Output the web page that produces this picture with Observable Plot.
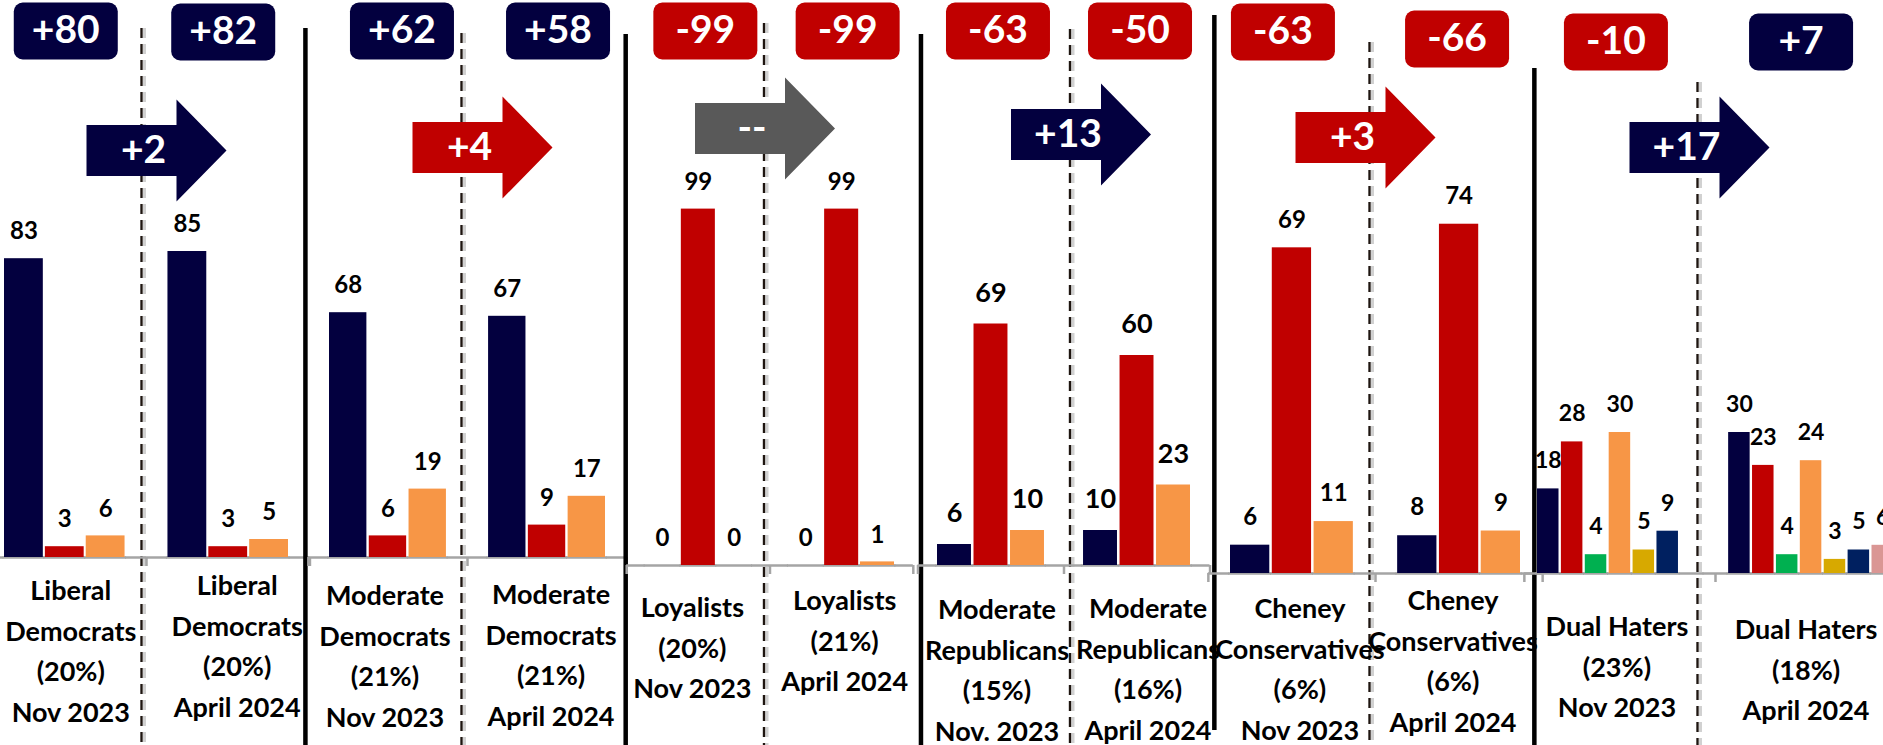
<!DOCTYPE html>
<html>
<head>
<meta charset="utf-8">
<script src="https://cdn.jsdelivr.net/npm/d3@7"></script>
<script src="https://cdn.jsdelivr.net/npm/@observablehq/plot@0.6"></script>
<style>
  html, body { margin: 0; padding: 0; background: #fff; }
  #chart { position: relative; width: 1883px; height: 745px; overflow: hidden; background: #fff; }
  #chart > svg { position: absolute; left: 0; top: 0; }
</style>
</head>
<body>
<div id="chart"></div>
<script>
// ---------------- DATA ----------------
const groups = ["Liberal\nDemocrats", "Moderate\nDemocrats", "Loyalists", "Moderate\nRepublicans", "Cheney\nConservatives", "Dual Haters"];
const groupShares = [[20, 20], [21, 21], [20, 21], [15, 16], [6, 6], [23, 18]];
const periodLabels = [
  ["Nov 2023", "April 2024"], ["Nov 2023", "April 2024"], ["Nov 2023", "April 2024"],
  ["Nov. 2023", "April 2024"], ["Nov 2023", "April 2024"], ["Nov 2023", "April 2024"]
];
const seriesKeys = ["s1", "s2", "s3", "s4", "s5", "s6", "s7"];
const groupSeries = [
  ["s1", "s2", "s4"], ["s1", "s2", "s4"], ["s1", "s2", "s4"],
  ["s1", "s2", "s4"], ["s1", "s2", "s4"], seriesKeys
];
const novValues = [[83, 3, 6], [68, 6, 19], [0, 99, 0], [6, 69, 10], [6, 69, 11], [18, 28, 4, 30, 5, 9, null]];
const aprValues = [[85, 3, 5], [67, 9, 17], [0, 99, 1], [10, 60, 23], [8, 74, 9], [30, 23, 4, 24, 3, 5, 6]];

// ---------------- STYLES ----------------
const seriesColors = {s1: "#03003f", s2: "#c00000", s3: "#00b050", s4: "#f79646", s5: "#d7a900", s6: "#002060", s7: "#da9694"};
const POS = "#03003f", NEG = "#c00000", NEUTRAL = "#595959";
const FONT = "Lato, 'Open Sans', 'DejaVu Sans Condensed', sans-serif";

// ---------------- LAYOUT (pixels) ----------------
const pairLayout = [
  {x0: 4,    x1: 288,  pad: 0.05, base: 557, k: 3.6,  valueSize: 24, valueDy: -27, solidDx: 0,  solidTop: 0,  solidBottom: 0,  dashDx: -5, dashTop: 28, arrowY: 150, arrowDx: 0},
  {x0: 329,  x1: 605,  pad: 0.06, base: 557, k: 3.6,  valueSize: 24, valueDy: -27, solidDx: -3, solidTop: 28, solidBottom: 0,  dashDx: -6, dashTop: 33, arrowY: 147, arrowDx: 5},
  {x0: 645,  x1: 894,  pad: 0.05, base: 565, k: 3.6,  valueSize: 24, valueDy: -27, solidDx: -1, solidTop: 34, solidBottom: 0,  dashDx: -6, dashTop: 23, arrowY: 128, arrowDx: -15},
  {x0: 937,  x1: 1190, pad: 0.07, base: 565, k: 3.5,  valueSize: 27, valueDy: -31, solidDx: 3,  solidTop: 34, solidBottom: 0,  dashDx: 6,  dashTop: 29, arrowY: 134, arrowDx: 7},
  {x0: 1230, x1: 1520, pad: 0.06, base: 573, k: 4.72, valueSize: 24, valueDy: -28, solidDx: 6,  solidTop: 15, solidBottom: 15, dashDx: -6, dashTop: 42, arrowY: 137, arrowDx: -20},
  {x0: 1537, x1: 1893, pad: 0.1,  base: 573, k: 4.7,  valueSize: 23, valueDy: -28, solidDx: 10, solidTop: 68, solidBottom: 0,  dashDx: -18, dashTop: 82, arrowY: 147, arrowDx: -26}
];
const labelDy = [[14, 9], [19, 18], [23, 16], [25, 24], [16, 8], [34, 37]];
const labelDx = [[6, 9], [-3, 4], [-6, 3], [6, 11], [8, -6], [-3, -5]];
const badgeY  = [[30, 31], [30, 30], [30, 30], [30, 30], [31, 38], [41, 41]];
const badgeDx = [[1, -5], [14, 11], [7, 6], [7, 3], [-9, -2], [-4, -10]];

// custom symbols (shapes of annotation boxes)
function roundRect(ctx, x, y, w, h, r) {
  ctx.moveTo(x + r, y);
  ctx.arcTo(x + w, y, x + w, y + h, r);
  ctx.arcTo(x + w, y + h, x, y + h, r);
  ctx.arcTo(x, y + h, x, y, r);
  ctx.arcTo(x, y, x + w, y, r);
  ctx.closePath();
}
const badgeSymbol = {draw(ctx) { roundRect(ctx, -52, -28, 104, 57, 9); }};
const arrowSymbol = {draw(ctx) {
  ctx.moveTo(-60, -25.5); ctx.lineTo(30, -25.5); ctx.lineTo(30, -51); ctx.lineTo(80, 0);
  ctx.lineTo(30, 51); ctx.lineTo(30, 25.5); ctx.lineTo(-60, 25.5); ctx.closePath();
}};

const signed = (v) => (v > 0 ? "+" + v : String(v));

function pairChart(g) {
  const L = pairLayout[g];
  const series = groupSeries[g];
  const nov = series.map((s) => "Nov|" + s);
  const apr = series.map((s) => "Apr|" + s);
  const domain = ["lead", ...nov, "sep", ...apr, "trail"];
  const n = domain.length;
  const iLast = n - 2;
  const step = (L.x1 - L.x0) / (iLast - L.pad);
  const r0 = L.x0 - L.pad * step - step;
  const r1 = r0 + (n + L.pad) * step;
  const bw = step * (1 - L.pad);
  const gap = step - bw;

  const bars = [];
  [novValues[g], aprValues[g]].forEach((vals, pi) =>
    vals.forEach((v, j) => {
      if (v != null) bars.push({key: (pi ? "Apr|" : "Nov|") + series[j], series: series[j], value: v});
    })
  );
  const mid = series[Math.floor((series.length - 1) / 2)];
  const nets = [novValues[g][0] - novValues[g][1], aprValues[g][0] - aprValues[g][1]];
  const panels = [0, 1].map((pi) => ({
    key: (pi ? "Apr|" : "Nov|") + mid,
    net: nets[pi],
    label: `${groups[g]}\n(${groupShares[g][pi]}%)\n${periodLabels[g][pi]}`
  }));
  const change = nets[1] - nets[0];
  const arrow = [{
    key: "sep",
    text: change === 0 ? "--" : "+" + Math.abs(change),
    color: change > 0 ? POS : change < 0 ? NEG : NEUTRAL
  }];

  const marks = [];
  // separators
  if (g > 0) {
    marks.push(Plot.ruleX(["lead"], {stroke: "#000", strokeWidth: 4.5, insetTop: L.solidTop, insetBottom: L.solidBottom, dx: L.solidDx}));
  }
  marks.push(Plot.ruleX(["sep"], {stroke: "#9a9a9a", strokeOpacity: 0.45, strokeWidth: 6, strokeDasharray: "10,6", insetTop: L.dashTop, dx: L.dashDx + 1.5}));
  marks.push(Plot.ruleX(["sep"], {stroke: "#1e1510", strokeWidth: 2.2, strokeDasharray: "10,6", insetTop: L.dashTop, dx: L.dashDx}));
  // category axis line
  marks.push(Plot.tickY([...nov, "sep", ...apr], {x: (d) => d, y: 0, stroke: "#a5a5a5", strokeWidth: 2.5, insetLeft: -gap / 2 - 0.5, insetRight: -gap / 2 - 0.5}));
  marks.push(Plot.tickY(["lead"], {x: (d) => d, y: 0, stroke: "#a5a5a5", strokeWidth: 2.5, insetLeft: bw / 2, insetRight: -gap / 2 - 0.5}));
  marks.push(Plot.tickY(["trail"], {x: (d) => d, y: 0, stroke: "#a5a5a5", strokeWidth: 2.5, insetLeft: -gap / 2 - 0.5, insetRight: bw / 2}));
  marks.push(Plot.ruleX(["lead", "sep", "trail"], {y1: 0, y2: 0, insetBottom: -9, stroke: "#a5a5a5", strokeWidth: 2.5}));
  // bars + values
  marks.push(Plot.barY(bars, {x: "key", y: "value", fill: (d) => seriesColors[d.series]}));
  marks.push(Plot.text(bars, {x: "key", y: "value", text: (d) => String(d.value), dy: L.valueDy, lineAnchor: "middle",
    fontSize: L.valueSize, fontWeight: "bold", fill: "#000", fontFamily: FONT}));
  // panel labels and badges
  panels.forEach((p, pi) => {
    marks.push(Plot.text([p], {x: "key", y: 0, text: "label", lineAnchor: "top", dy: labelDy[g][pi], dx: labelDx[g][pi],
      fontSize: 27, lineHeight: 1.5, fontWeight: "bold", fill: "#000", fontFamily: FONT}));
    marks.push(Plot.dot([p], {x: "key", frameAnchor: "top", dy: badgeY[g][pi], dx: badgeDx[g][pi], symbol: badgeSymbol, r: 10,
      fill: (d) => (d.net > 0 ? POS : NEG), stroke: "none"}));
    marks.push(Plot.text([p], {x: "key", frameAnchor: "top", dy: badgeY[g][pi], dx: badgeDx[g][pi], text: (d) => signed(d.net),
      lineAnchor: "middle", fontSize: 39, fontWeight: "bold", fill: "#fff", fontFamily: FONT}));
  });
  // change arrow
  marks.push(Plot.dot(arrow, {x: "key", frameAnchor: "top", dy: L.arrowY, dx: L.arrowDx, symbol: arrowSymbol, r: 10, fill: "color", stroke: "none"}));
  marks.push(Plot.text(arrow, {x: "key", frameAnchor: "top", dy: L.arrowY, dx: L.arrowDx - 3, text: "text", lineAnchor: "middle",
    fontSize: 39, fontWeight: "bold", fill: "#fff", fontFamily: FONT}));

  return Plot.plot({
    width: 1883,
    height: 745,
    margin: 0,
    x: {type: "band", domain, range: [r0, r1], padding: L.pad, round: false, axis: null},
    y: {domain: [0, 100], range: [L.base, L.base - 100 * L.k], axis: null},
    color: {type: "identity"},
    style: {position: "absolute", left: "0px", top: "0px", background: "transparent", overflow: "visible", fontFamily: FONT, maxWidth: "none"},
    marks
  });
}

const root = document.getElementById("chart");
groups.forEach((_, g) => root.appendChild(pairChart(g)));
</script>
</body>
</html>
